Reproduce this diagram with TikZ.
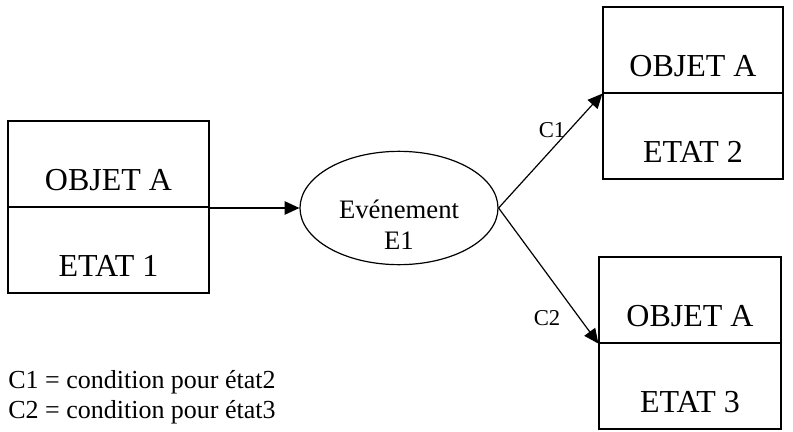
\documentclass[tikz,border=0pt]{standalone}
\usepackage{fontspec}
\setmainfont{Liberation Serif}
\usetikzlibrary{shapes.geometric,arrows.meta}
\begin{document}
\begin{tikzpicture}[x=0.75pt,y=-0.75pt,
  half/.style={draw, line width=0.9pt, minimum height=64.5pt, inner sep=0pt,
    text height=39pt, text depth=0pt, font=\fontsize{24}{28}\selectfont},
  conn/.style={line width=0.9pt, -{Triangle[length=11pt,width=10pt]}},
  cond/.style={font=\fontsize{17}{20}\selectfont},
  note/.style={anchor=base west, inner sep=0pt, font=\fontsize{19.5}{23}\selectfont}]
\useasboundingbox (0,0) rectangle (793,432);
% left box
\node[half, minimum width=150.75pt] (o1) at (108.5,164) {OBJET A};
\node[half, minimum width=150.75pt] (e1) at (108.5,250) {ETAT 1};
% top right box
\node[half, minimum width=135pt] (o2) at (693,50) {OBJET A};
\node[half, minimum width=135pt] (e2) at (693,136) {ETAT 2};
% bottom right box
\node[half, minimum width=136.5pt] (o3) at (690,300) {OBJET A};
\node[half, minimum width=136.5pt] (e3) at (690,386) {ETAT 3};
% event
\node[draw, ellipse, line width=0.9pt, minimum width=148.5pt, minimum height=85pt, inner sep=0pt] (ev) at (399,208) {};
\node[align=center, inner sep=0pt, font=\fontsize{20}{23.25}\selectfont] (evt) at (399,225) {Evénement\\E1};
% connectors
\draw[conn] (ev.west -| o1.south east) -- (ev.west);
\draw[conn] (ev.east) -- (o2.south west);
\draw[conn] (ev.east) -- (o3.south west);
\node[cond] (c1) at (552,130) {C1};
\node[cond] (c2) at (547,318) {C2};
% notes
\node[note] (n1) at (8,388) {C1 = condition pour état2};
\node[note] (n2) at (8,418) {C2 = condition pour état3};
\end{tikzpicture}
\end{document}
